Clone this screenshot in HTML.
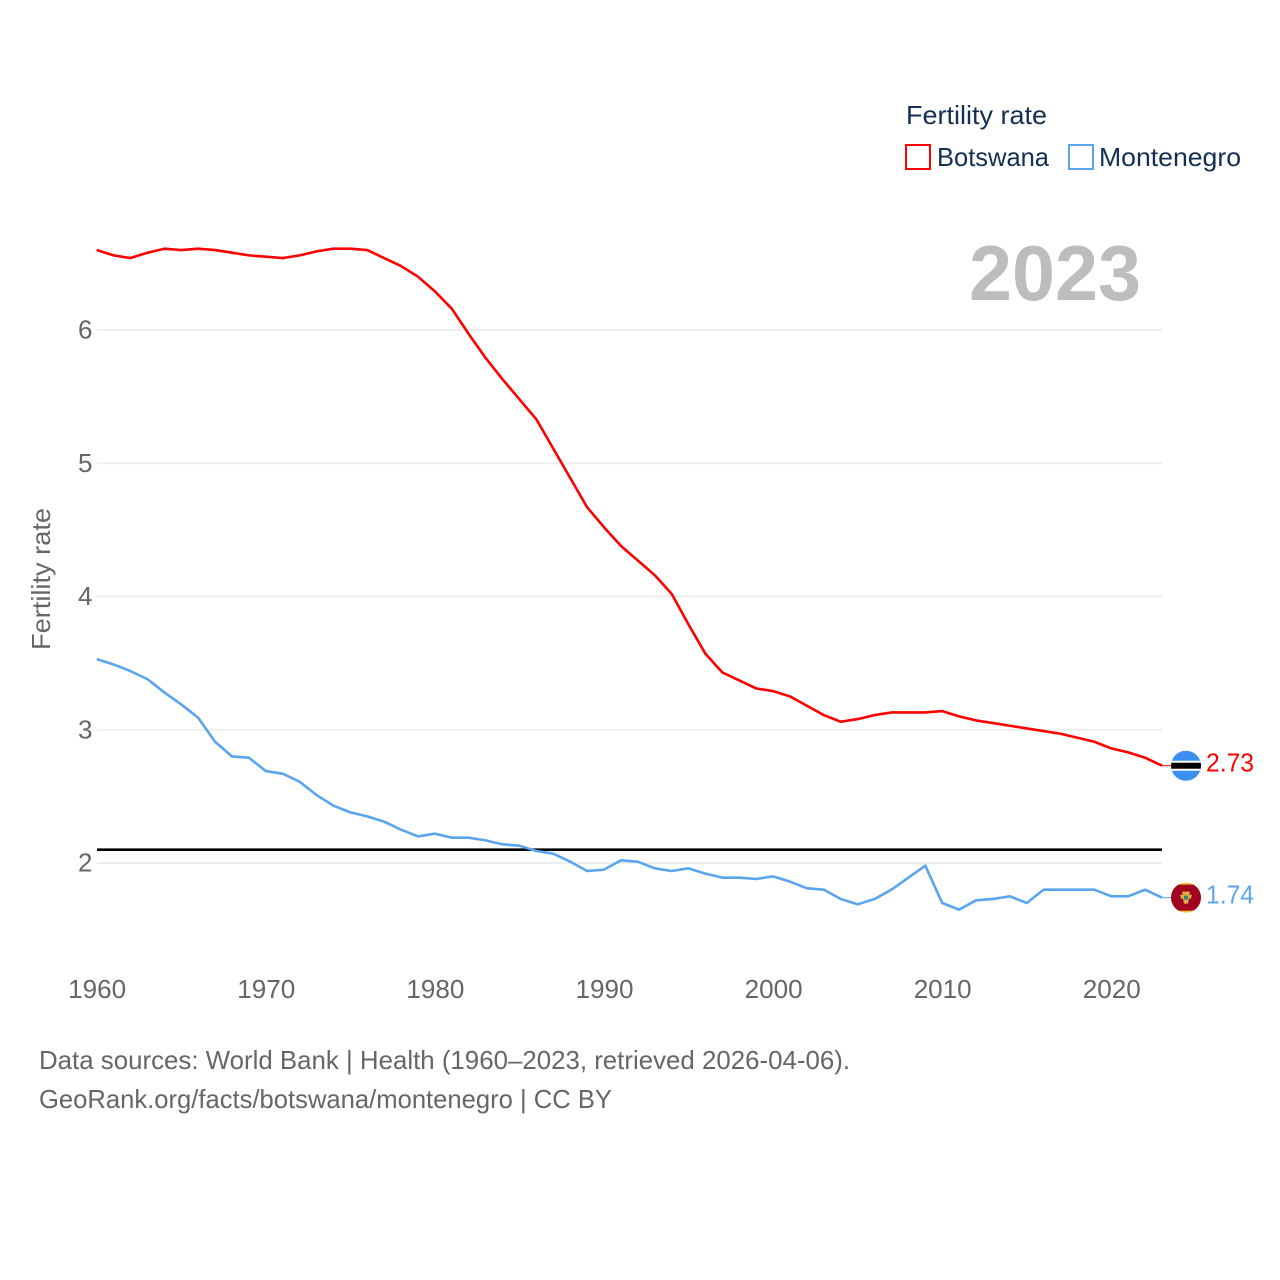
<!DOCTYPE html>
<html>
<head>
<meta charset="utf-8">
<title>Fertility rate: Botswana and Montenegro</title>
<style>
html,body{margin:0;padding:0;background:#fff;}
svg{display:block;font-family:"Liberation Sans",sans-serif;}
</style>
</head>
<body>
<svg id="chart" width="1280" height="1280" viewBox="0 0 1280 1280" xmlns="http://www.w3.org/2000/svg">
  <defs>
    <clipPath id="flag-clip-top"><circle id="clip-top" cx="1186" cy="765" r="15"></circle></clipPath>
    <clipPath id="flag-clip-bottom"><circle id="clip-bottom" cx="1186" cy="897" r="15"></circle></clipPath>
  </defs>
  <rect x="0" y="0" width="1280" height="1280" fill="#ffffff"></rect>

  <text x="906" y="124" font-size="26" fill="#132f53" textLength="141" lengthAdjust="spacingAndGlyphs">Fertility rate</text>
  <rect x="906" y="145" width="24" height="24" fill="none" stroke="#ff0000" stroke-width="2"></rect>
  <text x="937" y="166" font-size="26" fill="#132f53" textLength="112" lengthAdjust="spacingAndGlyphs">Botswana</text>
  <rect x="1069" y="145" width="24" height="24" fill="none" stroke="#5ba4ee" stroke-width="2"></rect>
  <text x="1099" y="166" font-size="26" fill="#132f53" textLength="142" lengthAdjust="spacingAndGlyphs">Montenegro</text>

  <text x="969" y="300" font-size="78" font-weight="bold" fill="#bdbdbd" textLength="172" lengthAdjust="spacingAndGlyphs">2023</text>

  <g id="grid"></g>
  <g id="y-ticks"></g>
  <g id="x-ticks"></g>

  <text transform="translate(50,579) rotate(-90)" text-anchor="middle" font-size="26" fill="#666666" textLength="142" lengthAdjust="spacingAndGlyphs">Fertility rate</text>

  <g id="series"></g>

  <g id="flag-botswana" clip-path="url(#flag-clip-top)"></g>
  <g id="flag-montenegro" clip-path="url(#flag-clip-bottom)"></g>

  <text x="39" y="1069" font-size="26" fill="#666666" textLength="811" lengthAdjust="spacingAndGlyphs">Data sources: World Bank | Health (1960–2023, retrieved 2026-04-06).</text>
  <text x="39" y="1108" font-size="26" fill="#666666" textLength="573" lengthAdjust="spacingAndGlyphs">GeoRank.org/facts/botswana/montenegro | CC BY</text>
</svg>
<script>
var startYear = 1960;
var botswanaValues = [6.60,6.56,6.54,6.58,6.61,6.60,6.61,6.60,6.58,6.56,6.55,6.54,6.56,6.59,6.61,6.61,6.60,6.54,6.48,6.40,6.29,6.16,5.97,5.79,5.63,5.48,5.33,5.11,4.89,4.67,4.52,4.38,4.27,4.16,4.02,3.79,3.57,3.43,3.37,3.31,3.29,3.25,3.18,3.11,3.06,3.08,3.11,3.13,3.13,3.13,3.14,3.10,3.07,3.05,3.03,3.01,2.99,2.97,2.94,2.91,2.86,2.83,2.79,2.73];
var montenegroValues = [3.53,3.49,3.44,3.38,3.28,3.19,3.09,2.91,2.80,2.79,2.69,2.67,2.61,2.51,2.43,2.38,2.35,2.31,2.25,2.20,2.22,2.19,2.19,2.17,2.14,2.13,2.09,2.07,2.01,1.94,1.95,2.02,2.01,1.96,1.94,1.96,1.92,1.89,1.89,1.88,1.90,1.86,1.81,1.80,1.73,1.69,1.73,1.80,1.89,1.98,1.70,1.65,1.72,1.73,1.75,1.70,1.80,1.80,1.80,1.80,1.75,1.75,1.80,1.74];
var yTickValues = [2,3,4,5,6];
var xTickYears = [1960,1970,1980,1990,2000,2010,2020];
var replacementLevel = [2.1];

var NS = 'http://www.w3.org/2000/svg';
function xScale(year){ return 96.7 + (year - 1960) * 16.91; }
function yScale(v){ return 863 - (v - 2) * 133.25; }
function make(tag, attrs, parent){
  var el = document.createElementNS(NS, tag);
  for (var k in attrs) el.setAttribute(k, attrs[k]);
  parent.appendChild(el);
  return el;
}
var xEnd = xScale(startYear + botswanaValues.length - 1);

var grid = document.getElementById('grid');
var yTicks = document.getElementById('y-ticks');
yTickValues.forEach(function(v){
  var line = make('line', {x1:97, x2:xEnd, y1:yScale(v), y2:yScale(v), stroke:'#eeeeee', 'stroke-width':2}, grid);
  
  
  var t = make('text', {x:92.5, y:yScale(v) + 8.5, 'text-anchor':'end', 'font-size':26, fill:'#666666'}, yTicks);
  
  
  t.textContent = v;
});

var xTicks = document.getElementById('x-ticks');
xTickYears.forEach(function(y){
  var t = make('text', {x:xScale(y) + 0.5, y:998, 'text-anchor':'middle', 'font-size':26, fill:'#666666', textLength:58, lengthAdjust:'spacingAndGlyphs'}, xTicks);
  
  
  t.textContent = y;
});

var series = document.getElementById('series');
function pointsFor(values){
  return values.map(function(v, i){ return xScale(startYear + i).toFixed(2) + ',' + yScale(v).toFixed(2); }).join(' ');
}
var refLine = make('line', {x1:97, x2:xEnd, y1:yScale(replacementLevel[0]), y2:yScale(replacementLevel[0]), stroke:'#000000', 'stroke-width':2.6}, series);



var lineB = make('polyline', {points:pointsFor(botswanaValues), fill:'none', stroke:'#ff0000', 'stroke-width':2.6, 'stroke-linejoin':'round'}, series);


var lineM = make('polyline', {points:pointsFor(montenegroValues), fill:'none', stroke:'#5ba4ee', 'stroke-width':2.6, 'stroke-linejoin':'round'}, series);



var lastB = botswanaValues[botswanaValues.length - 1];
var lastM = montenegroValues[montenegroValues.length - 1];
var yB = yScale(lastB);
var yM = yScale(lastM);

var leaderB = make('line', {x1:xEnd, x2:1171, y1:yB, y2:yB, stroke:'#ff0000', 'stroke-width':1}, series);


var leaderM = make('line', {x1:xEnd, x2:1171, y1:yM, y2:yM, stroke:'#5ba4ee', 'stroke-width':1}, series);



var labelB = make('text', {x:1206, y:yB + 6, 'font-size':26, fill:'#ff0000', textLength:48, lengthAdjust:'spacingAndGlyphs'}, series);


labelB.textContent = lastB.toFixed(2);
var labelM = make('text', {x:1206, y:yM + 6, 'font-size':26, fill:'#5ba4ee', textLength:48, lengthAdjust:'spacingAndGlyphs'}, series);


labelM.textContent = lastM.toFixed(2);

/* flags follow the final value of each series */
var cyB = yB;
var cyM = yM;
document.getElementById('clip-top').setAttribute('cy', cyB);
document.getElementById('clip-bottom').setAttribute('cy', cyM);

var fb = document.getElementById('flag-botswana');
make('rect', {x:1171, y:cyB - 15, width:30, height:30, fill:'#3a8ff0'}, fb);
make('rect', {x:1171, y:cyB - 5, width:30, height:10, fill:'#ffffff'}, fb);
make('rect', {x:1171, y:cyB - 3, width:30, height:6, fill:'#000000'}, fb);

var fm = document.getElementById('flag-montenegro');
make('rect', {x:1171, y:cyM - 15, width:30, height:30, fill:'#f2c230'}, fm);
make('rect', {x:1171, y:cyM - 13, width:30, height:26, fill:'#a00320'}, fm);
make('path', {d:'M1182 ' + (cyM - 6) + 'h8l-1 3h3l-1 4h-2l-1 5h-4l-1 -5h-2l-1 -4h3z', fill:'#e0b040'}, fm);
make('rect', {x:1184, y:cyM - 2, width:4, height:4, fill:'#3f7f6f'}, fm);
</script>
</body>
</html>
